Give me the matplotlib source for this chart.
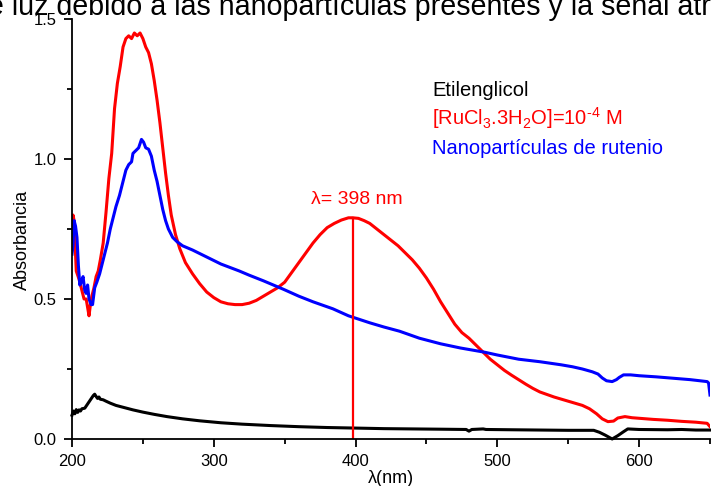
"""UV-vis absorption spectra: ethylene glycol, RuCl3 precursor and Ru nanoparticles."""
import matplotlib

matplotlib.use("Agg")
import matplotlib.pyplot as plt

plt.rcParams["font.family"] = ["Liberation Sans", "DejaVu Sans"]
plt.rcParams["mathtext.fontset"] = "custom"
plt.rcParams["mathtext.rm"] = "Liberation Sans"
plt.rcParams["mathtext.it"] = "Liberation Sans"

# wavelength (nm) / absorbance
red_nm = [200, 200.7, 201.5, 203, 205, 207, 208.5, 210, 211, 212, 213, 214, 215.5, 217,
          218.5, 220, 222, 224, 226, 228, 230, 232, 234, 236, 238, 240, 242, 244, 246,
          248, 250, 252, 254, 256, 258, 260, 262, 264, 266, 268, 270, 273, 276, 280,
          285, 290, 295, 300, 305, 310, 315, 320, 325, 330, 335, 340, 345, 350, 355,
          360, 365, 370, 375, 380, 385, 390, 395, 398, 402, 406, 410, 415, 420, 425,
          430, 435, 440, 445, 450, 455, 460, 465, 470, 475, 480, 485, 490, 495, 500,
          505, 510, 515, 520, 525, 530, 540, 550, 560, 565, 570, 574, 578, 582, 585,
          590, 595, 600, 610, 620, 630, 640, 648, 650]
red_abs = [0.76, 0.80, 0.78, 0.60, 0.57, 0.53, 0.50, 0.50, 0.47, 0.44, 0.48, 0.51, 0.54,
           0.58, 0.60, 0.64, 0.70, 0.81, 0.93, 1.02, 1.18, 1.27, 1.33, 1.40, 1.43, 1.44,
           1.43, 1.45, 1.44, 1.45, 1.43, 1.40, 1.38, 1.34, 1.28, 1.21, 1.13, 1.04, 0.95,
           0.87, 0.80, 0.73, 0.68, 0.63, 0.59, 0.555, 0.525, 0.505, 0.49, 0.483, 0.48,
           0.48, 0.485, 0.495, 0.51, 0.525, 0.54, 0.56, 0.595, 0.63, 0.665, 0.70, 0.73,
           0.755, 0.77, 0.782, 0.79, 0.79, 0.788, 0.78, 0.77, 0.75, 0.73, 0.71, 0.69,
           0.665, 0.64, 0.61, 0.575, 0.535, 0.49, 0.45, 0.41, 0.38, 0.36, 0.335, 0.31,
           0.285, 0.265, 0.245, 0.228, 0.212, 0.196, 0.181, 0.168, 0.15, 0.135, 0.12,
           0.108, 0.09, 0.072, 0.062, 0.064, 0.075, 0.08, 0.076, 0.074, 0.07, 0.067,
           0.063, 0.06, 0.056, 0.044]

blue_nm = [200, 200.7, 201.5, 202.5, 203.5, 204.5, 205.5, 206.5, 207.8, 209, 210, 211,
           212, 213.5, 214.5, 216, 217.5, 219.5, 221, 223, 225, 227, 229, 231, 233.5,
           236, 238, 240, 242, 243, 245, 247, 249, 250.5, 252, 254, 256, 258, 260, 262,
           264, 266, 268, 271, 274, 278, 285, 295, 305, 318, 325, 335, 349, 360, 370,
           384, 395, 410, 420, 431, 445, 460, 474, 491, 500, 515, 530, 545, 553, 560,
           567, 571, 574, 577, 581, 584, 586, 589, 594, 600, 612, 624, 636, 648, 649, 650]
blue_abs = [0.66, 0.69, 0.78, 0.76, 0.72, 0.62, 0.55, 0.56, 0.58, 0.53, 0.52, 0.55, 0.50,
            0.48, 0.48, 0.54, 0.56, 0.59, 0.62, 0.66, 0.70, 0.75, 0.79, 0.83, 0.87, 0.92,
            0.96, 0.98, 0.99, 1.02, 1.03, 1.04, 1.07, 1.06, 1.04, 1.035, 1.01, 0.96,
            0.92, 0.87, 0.82, 0.78, 0.75, 0.72, 0.705, 0.69, 0.675, 0.65, 0.625, 0.60,
            0.585, 0.565, 0.535, 0.51, 0.49, 0.465, 0.44, 0.415, 0.40, 0.385, 0.36, 0.34,
            0.325, 0.31, 0.30, 0.285, 0.276, 0.265, 0.258, 0.25, 0.24, 0.232, 0.218,
            0.208, 0.205, 0.212, 0.22, 0.229, 0.229, 0.226, 0.222, 0.217, 0.212, 0.205,
            0.20, 0.157]

black_nm = [200, 201, 202, 203, 204, 205, 206, 207, 209, 211, 213, 215, 216, 217, 218,
            219, 220, 222, 224, 227, 231, 237, 243, 250, 258, 267, 278, 290, 305, 320,
            340, 360, 380, 400, 420, 440, 460, 478, 480, 482, 490, 492, 510, 530, 550,
            568, 572, 576, 581, 585, 589, 592, 600, 620, 630, 640, 650]
black_abs = [0.085, 0.10, 0.09, 0.105, 0.095, 0.104, 0.10, 0.108, 0.11, 0.125, 0.14,
             0.155, 0.16, 0.152, 0.145, 0.15, 0.142, 0.14, 0.135, 0.128, 0.12, 0.112,
             0.104, 0.096, 0.088, 0.08, 0.072, 0.065, 0.058, 0.053, 0.048, 0.044, 0.041,
             0.039, 0.037, 0.036, 0.035, 0.034, 0.028, 0.034, 0.036, 0.034, 0.033,
             0.032, 0.031, 0.031, 0.024, 0.014, 0.0, 0.012, 0.026, 0.036, 0.034, 0.033,
             0.034, 0.032, 0.032]

peak_nm = 398
peak_abs = 0.79

legend_labels = ["Etilenglicol",
                 r"[RuCl$_3$.3H$_2$O]=10$^{‐4}$ M",
                 "Nanopartículas de rutenio"]
legend_colors = ["black", "red", "blue"]

x_ticks = [200, 300, 400, 500, 600]
y_ticks = [0.0, 0.5, 1.0, 1.5]

fig = plt.figure(figsize=(7.11, 4.86), dpi=100)
ax = fig.add_axes([72 / 711, 47 / 486, 638 / 711, 420 / 486])

ax.plot(black_nm, black_abs, color="black", lw=2.2, clip_on=False)
ax.plot(red_nm, red_abs, color="red", lw=2.2)
ax.plot(blue_nm, blue_abs, color="blue", lw=2.2)
ax.plot([peak_nm, peak_nm], [0, peak_abs], color="red", lw=1.6)
ax.text(peak_nm + 3, 0.855, "λ= %d nm" % peak_nm, color="red", fontsize=14,
        ha="center", va="center")

for i, (lab, col) in enumerate(zip(legend_labels, legend_colors)):
    ax.text(454, 1.225 - i * 0.1035, lab, color=col, fontsize=14.5, va="baseline")

ax.set_xlim(200, 650)
ax.set_ylim(0, 1.5)
ax.set_xticks(x_ticks)
ax.set_yticks(y_ticks)
ax.set_yticklabels(["%.1f" % v for v in y_ticks])
ax.set_xticks(range(250, 651, 100), minor=True)
ax.set_yticks([0.25, 0.75, 1.25], minor=True)
for s in ("top", "right"):
    ax.spines[s].set_visible(False)
for s in ("left", "bottom"):
    ax.spines[s].set_linewidth(1.3)
ax.tick_params(which="major", direction="out", length=6, width=1.3, labelsize=12, pad=5)
ax.tick_params(which="minor", direction="out", length=3.5, width=1.3)

fig.text(22 / 711, 1 - 240 / 486, "Absorbancia", rotation=90, fontsize=13,
         ha="center", va="center")
fig.text(391 / 711, 1 - 478 / 486, "λ(nm)", fontsize=13, ha="center", va="center")

# page text above the figure, cut off by the scan
fig.text(-28 / 711, 1 - 15 / 486,
         "de luz debido a las nanopartículas presentes y la señal atribuida",
         fontsize=20.6, ha="left", va="baseline")

fig.savefig("out.png", dpi=100)
plt.close(fig)
